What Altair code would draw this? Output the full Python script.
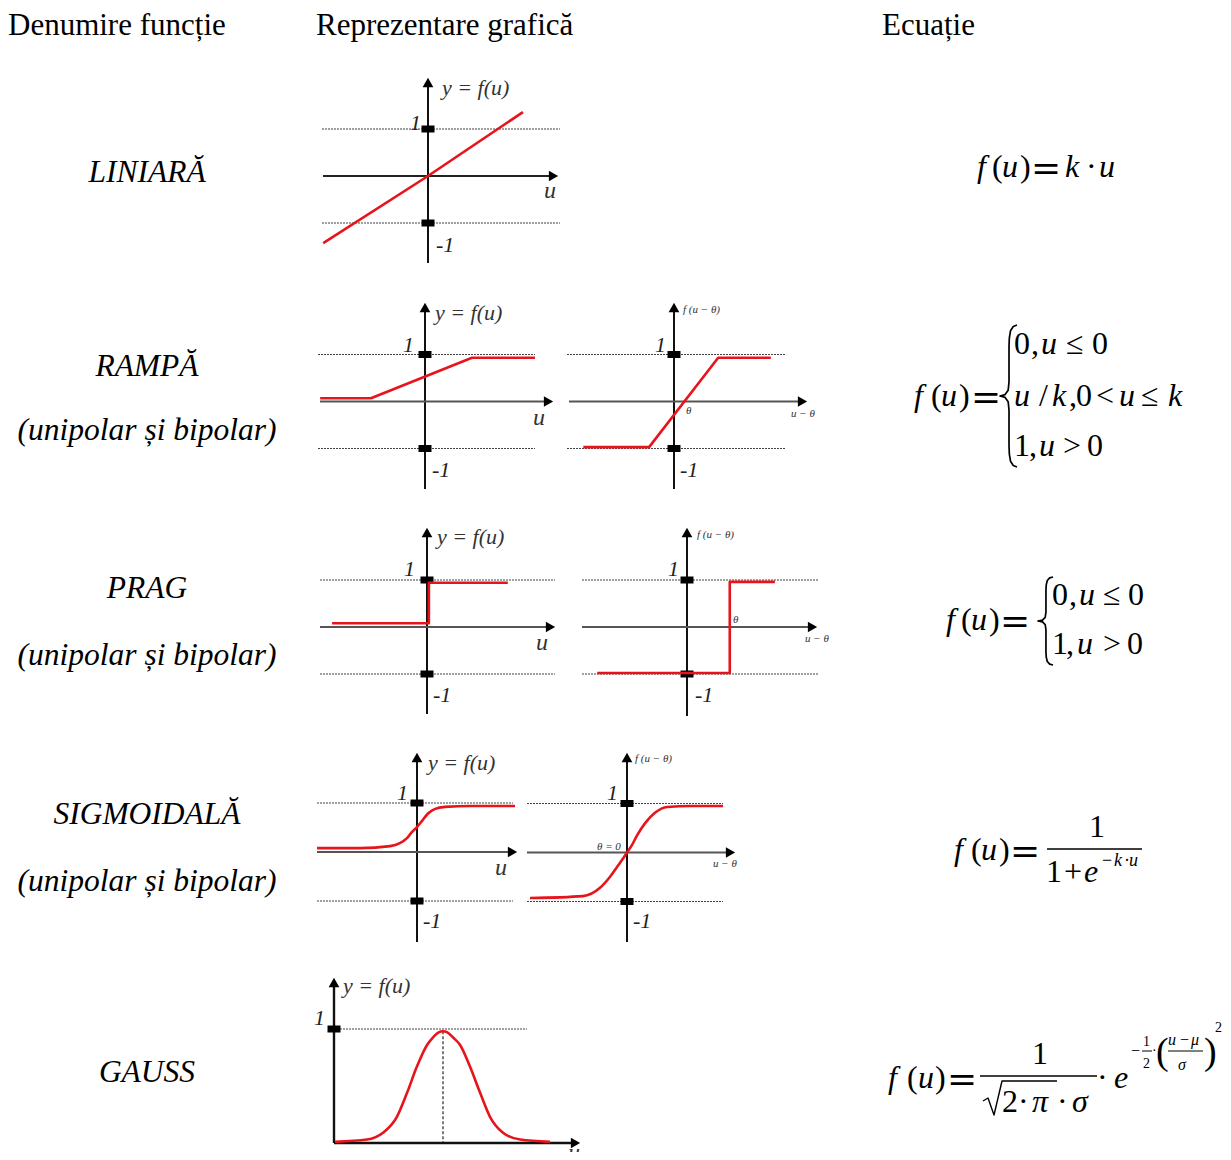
import altair as alt
import pandas as pd

# ------------------------------------------------------------------ texts
headers = ["Denumire funcție", "Reprezentare grafică", "Ecuație"]
names = ["LINIARĂ", "RAMPĂ", "PRAG", "SIGMOIDALĂ", "GAUSS"]
subtitle = "(unipolar și bipolar)"

# ------------------------------------------------------------------ data
# u = argument in panel units, f = function value
lin_u = [-2.23, 0.0, 2.02]
lin_f = [-1.43, 0.0, 1.36]
ramp_uni_u = [-2.23, -1.15, 1.00, 2.34]
ramp_uni_f = [0.07, 0.07, 0.93, 0.93]
ramp_bi_u = [-1.93, -0.53, 0.94, 2.06]
ramp_bi_f = [-0.97, -0.97, 0.93, 0.93]
prag_uni_u = [-2.02, 0.04, 0.04, 1.72]
prag_uni_f = [0.08, 0.08, 0.94, 0.94]
prag_bi_u = [-1.91, 0.91, 0.91, 1.87]
prag_bi_f = [-0.98, -0.98, 0.96, 0.96]
sig_uni_u = [-2.04, -1.16, -0.55, -0.35, -0.20, -0.10, 0.0, 0.10, 0.22, 0.37, 0.57, 1.08, 2.0]
sig_uni_f = [0.08, 0.08, 0.12, 0.18, 0.29, 0.41, 0.51, 0.63, 0.78, 0.88, 0.92, 0.94, 0.94]
sig_bi_u = [-1.98, -0.90, -0.55, -0.35, -0.20, -0.10, 0.0, 0.10, 0.20, 0.37, 0.57, 0.82, 1.29, 1.96]
sig_bi_f = [-0.93, -0.89, -0.72, -0.50, -0.29, -0.15, 0.0, 0.15, 0.34, 0.60, 0.81, 0.93, 0.95, 0.95]
gauss_u = [-3.72, -2.62, -2.07, -1.59, -1.24, -0.90, -0.55, -0.35, -0.15, 0.0,
           0.15, 0.35, 0.59, 0.93, 1.28, 1.62, 2.07, 2.66, 3.69]
gauss_f = [0.01, 0.03, 0.09, 0.23, 0.44, 0.67, 0.86, 0.925, 0.97, 0.98,
           0.97, 0.925, 0.86, 0.67, 0.44, 0.23, 0.09, 0.03, 0.01]

# brace glyph outline (normalised)
brace_x = [1.0, 0.78, 0.62, 0.55, 0.53, 0.53, 0.48, 0.30, 0.0, 0.30, 0.48, 0.53, 0.53, 0.55, 0.62, 0.78, 1.0]
brace_y = [0.0, 0.01, 0.04, 0.09, 0.15, 0.40, 0.46, 0.49, 0.5, 0.51, 0.54, 0.60, 0.85, 0.91, 0.96, 0.99, 1.0]

# ------------------------------------------------------------------ layout (page pixels)
P = {
    "lin": dict(ax=428, ay=176, cx=428, sx=47, sy=47, vt=78, vb=263, hl=323, hr=558, dl=322, dr=560, neg=True, hc="#222"),
    "r1": dict(ax=425, ay=401.5, cx=425, sx=47, sy=47, vt=303, vb=489, hl=320, hr=553, dl=318, dr=535, neg=True, hc="#555"),
    "r2": dict(ax=674, ay=401.5, cx=674, sx=47, sy=47, vt=303, vb=489, hl=569, hr=807, dl=567, dr=786, neg=True, hc="#555"),
    "p1": dict(ax=427, ay=627, cx=427, sx=47, sy=47, vt=528, vb=714, hl=320, hr=555, dl=320, dr=555, neg=True, hc="#555"),
    "p2": dict(ax=687, ay=627, cx=687, sx=47, sy=47, vt=528, vb=716, hl=582, hr=817, dl=582, dr=818, neg=True, hc="#555"),
    "s1": dict(ax=417, ay=852, cx=417, sx=49, sy=49, vt=753, vb=942, hl=317, hr=517, dl=317, dr=513, neg=True, hc="#555"),
    "s2": dict(ax=627, ay=852.5, cx=627, sx=49, sy=49, vt=753, vb=942, hl=527, hr=735, dl=527, dr=723, neg=True, hc="#555"),
    "g": dict(ax=334, ay=1143, cx=443, sx=29, sy=114, vt=978, vb=1143, hl=334, hr=580, dl=334, dr=527, neg=False, hc="#111"),
}
curves_lin = [("lin", lin_u, lin_f), ("r1", ramp_uni_u, ramp_uni_f), ("r2", ramp_bi_u, ramp_bi_f),
              ("p1", prag_uni_u, prag_uni_f), ("p2", prag_bi_u, prag_bi_f)]
curves_smooth = [("s1", sig_uni_u, sig_uni_f), ("s2", sig_bi_u, sig_bi_f), ("g", gauss_u, gauss_f)]

RED = "#e8141c"
XS = alt.Scale(domain=[8, 1223], nice=False, zero=False)
YS = alt.Scale(domain=[8, 1152], nice=False, zero=False, reverse=True)


def enc_xy():
    return dict(x=alt.X("x:Q", scale=XS, axis=None), y=alt.Y("y:Q", scale=YS, axis=None))


# ---- line geometry
solid, dotted, dashed, red_lin, red_smooth = [], [], [], [], []
gid = [0]


def seg(lst, pts, color, width):
    gid[0] += 1
    for i, (x, y) in enumerate(pts):
        lst.append(dict(x=x, y=y, o=i, g=gid[0], c=color, w=width))


arrows_up, arrows_right, ticks = [], [], []
for k, p in P.items():
    wv = 2.4 if k == "g" else 2.0
    seg(solid, [(p["ax"], p["vb"]), (p["ax"], p["vt"] + 5)], "#111", wv)
    seg(solid, [(p["hl"], p["ay"]), (p["hr"] - 5, p["ay"])], p["hc"], wv if k == "g" else 1.8)
    arrows_up.append(dict(x=p["ax"], y=p["vt"] + 4.5))
    arrows_right.append(dict(x=p["hr"] - 4.5, y=p["ay"]))
    levels = [1, -1] if p["neg"] else [1]
    for lv in levels:
        yy = p["ay"] - lv * p["sy"]
        seg(dotted, [(p["dl"], yy), (p["dr"], yy)], "#444", 1.1)
        ticks.append(dict(x=p["ax"] - 6.5, x2=p["ax"] + 6.5, y=yy - 3.5, y2=yy + 3.5))

for k, us, fs in curves_lin:
    p = P[k]
    seg(red_lin, [(p["cx"] + u * p["sx"], p["ay"] - f * p["sy"]) for u, f in zip(us, fs)], RED, 2.6)
for k, us, fs in curves_smooth:
    p = P[k]
    seg(red_smooth, [(p["cx"] + u * p["sx"], p["ay"] - f * p["sy"]) for u, f in zip(us, fs)], RED, 2.6)

pg = P["g"]
seg(dashed, [(pg["cx"], pg["ay"] - max(gauss_f) * pg["sy"]), (pg["cx"], pg["ay"])], "#111", 1.1)

# braces, fraction bars, radical
for (x0, x1, y0, y1) in [(1000, 1017, 325, 467), (1038, 1053, 577, 665)]:
    seg(solid, [(x0 + bx * (x1 - x0), y0 + by * (y1 - y0)) for bx, by in zip(brace_x, brace_y)], "#000", 1.7)
seg(solid, [(1047, 849), (1142, 849)], "#000", 1.4)
seg(solid, [(980, 1076), (1097, 1076)], "#000", 1.4)
seg(solid, [(983, 1101), (988, 1098), (994, 1115), (1002, 1081), (1057, 1081)], "#000", 1.4)
seg(solid, [(1142, 1051), (1152, 1051)], "#000", 1.0)
seg(solid, [(1168, 1051), (1203, 1051)], "#000", 1.0)

# ---- texts  (text, x, baseline y, size, color)
T = {"n": [], "i": [], "ic": [], "ir": [], "sym": []}


def t(style, txt, x, y, s, c="#000"):
    if style == "sym":
        y = y + 3
    T[style].append(dict(x=x, y=y, t=txt, s=s, c=c))


t("n", headers[0], 8, 35, 31)
t("n", headers[1], 316, 35, 31)
t("n", headers[2], 882, 35, 31)
for nm, yb in zip(names, [182, 376, 598, 824, 1082]):
    t("ic", nm, 147, yb, 31.5)
for yb in [440, 665, 891]:
    t("ic", subtitle, 147, yb, 31.5)

LBL = "#222"
# panel labels
for (xl, yb) in [(442, 95), (435, 320), (437, 544), (428, 770), (343, 993)]:
    t("i", "y = f(u)", xl, yb, 22, "#333")
for (xr, yb) in [(421, 130), (414, 352), (666, 352), (415, 576), (679, 576), (408, 800), (618, 800), (325, 1025)]:
    t("ir", "1", xr, yb, 22, LBL)
for (xl, yb) in [(436, 252), (432, 477), (680, 477), (433, 702), (695, 702), (423, 928), (633, 928)]:
    t("i", "-1", xl, yb, 22, LBL)
for (xl, yb) in [(544, 198), (533, 425), (536, 650), (495, 875), (568, 1160)]:
    t("i", "u", xl, yb, 24, "#333")
for (xl, yb) in [(683, 313), (697, 538), (635, 762)]:
    t("i", "f (u − θ)", xl, yb, 11, "#333")
for (xl, yb) in [(791, 417), (805, 642), (713, 867)]:
    t("i", "u − θ", xl, yb, 11, "#333")
t("i", "θ", 686, 414, 11, "#333")
t("i", "θ", 733, 623, 11, "#333")
t("i", "θ = 0", 597, 850, 11, "#333")

S = 32
EQ = 36
# equation 1
for txt, x, st in [("f", 977, "i"), ("(", 992, "n"), ("u", 1002, "i"), (")", 1020, "n"), ("=", 1031, "sym"),
                   ("k", 1065, "i"), ("·", 1086, "n"), ("u", 1099, "i")]:
    t(st, txt, x, 177, EQ if st == "sym" else S)
# equation 2
for txt, x, st in [("f", 914, "i"), ("(", 931, "n"), ("u", 941, "i"), (")", 959, "n"), ("=", 971, "sym")]:
    t(st, txt, x, 406, EQ if st == "sym" else S)
for txt, x, st in [("0", 1014, "n"), (",", 1031, "n"), ("u", 1041, "i"), ("≤", 1066, "n"), ("0", 1092, "n")]:
    t(st, txt, x, 354, S)
for txt, x, st in [("u", 1014, "i"), ("/", 1039, "n"), ("k", 1052, "i"), (",", 1069, "n"), ("0", 1076, "n"),
                   ("<", 1096, "n"), ("u", 1119, "i"), ("≤", 1141, "n"), ("k", 1168, "i")]:
    t(st, txt, x, 406, S)
for txt, x, st in [("1", 1014, "n"), (",", 1029, "n"), ("u", 1039, "i"), (">", 1063, "n"), ("0", 1087, "n")]:
    t(st, txt, x, 456, S)
# equation 3
for txt, x, st in [("f", 946, "i"), ("(", 961, "n"), ("u", 971, "i"), (")", 989, "n"), ("=", 1000, "sym")]:
    t(st, txt, x, 630, EQ if st == "sym" else S)
for txt, x, st in [("0", 1052, "n"), (",", 1069, "n"), ("u", 1079, "i"), ("≤", 1103, "n"), ("0", 1128, "n")]:
    t(st, txt, x, 605, S)
for txt, x, st in [("1", 1052, "n"), (",", 1066, "n"), ("u", 1077, "i"), (">", 1103, "n"), ("0", 1127, "n")]:
    t(st, txt, x, 654, S)
# equation 4
for txt, x, st in [("f", 954, "i"), ("(", 971, "n"), ("u", 981, "i"), (")", 999, "n"), ("=", 1010, "sym")]:
    t(st, txt, x, 860, EQ if st == "sym" else S)
t("n", "1", 1089, 837, S)
for txt, x, st in [("1", 1046, "n"), ("+", 1064, "n"), ("e", 1084, "i")]:
    t(st, txt, x, 882, S)
for txt, x, st in [("−", 1102, "n"), ("k", 1114, "i"), ("·", 1124, "n"), ("u", 1129, "i")]:
    t(st, txt, x, 866, 18)
# equation 5
for txt, x, st in [("f", 888, "i"), ("(", 907, "n"), ("u", 918, "i"), (")", 935, "n"), ("=", 947, "sym"),
                   ("·", 1097, "n"), ("e", 1114, "i")]:
    t(st, txt, x, 1088, EQ if st == "sym" else S)
t("n", "1", 1032, 1064, S)
for txt, x, st in [("2", 1002, "n"), ("·", 1018, "n"), ("π", 1032, "i"), ("·", 1057, "n"), ("σ", 1072, "i")]:
    t(st, txt, x, 1112, S)
t("n", "−", 1131, 1056, 16)
t("n", "1", 1143, 1046, 14)
t("n", "2", 1143, 1068, 14)
t("n", "·", 1152, 1055, 14)
t("n", "(", 1156, 1064, 38)
t("n", ")", 1204, 1064, 38)
for txt, x, st in [("u", 1168, "i"), ("−", 1180, "n"), ("μ", 1191, "i")]:
    t(st, txt, x, 1045, 16)
t("i", "σ", 1178, 1070, 16)
t("n", "2", 1215, 1032, 14)

# ------------------------------------------------------------------ chart
layers = []


def line_layer(rows, dash=None, interp="linear"):
    kw = dict(interpolate=interp, strokeCap="butt", strokeJoin="round")
    if dash:
        kw["strokeDash"] = dash
    return alt.Chart(pd.DataFrame(rows)).mark_line(**kw).encode(
        **enc_xy(), detail="g:N", order="o:Q",
        color=alt.Color("c:N", scale=None), strokeWidth=alt.StrokeWidth("w:Q", scale=None))


layers.append(line_layer(dotted, dash=[2, 1]))
layers.append(line_layer(dashed, dash=[3, 2]))
layers.append(line_layer(solid))
layers.append(alt.Chart(pd.DataFrame(ticks)).mark_rect(color="#000").encode(
    x=alt.X("x:Q", scale=XS, axis=None), x2="x2:Q", y=alt.Y("y:Q", scale=YS, axis=None), y2="y2:Q"))
layers.append(alt.Chart(pd.DataFrame(arrows_up)).mark_point(shape="triangle-up", filled=True, opacity=1,
                                                               size=115, color="#000").encode(**enc_xy()))
layers.append(alt.Chart(pd.DataFrame(arrows_right)).mark_point(shape="triangle-right", filled=True, opacity=1,
                                                                  size=115, color="#000").encode(**enc_xy()))
layers.append(line_layer(red_lin))
layers.append(line_layer(red_smooth, interp="monotone"))

styles = {
    "n": dict(font="Liberation Serif", fontStyle="normal", align="left"),
    "i": dict(font="Liberation Serif", fontStyle="italic", align="left"),
    "ic": dict(font="Liberation Serif", fontStyle="italic", align="center"),
    "ir": dict(font="Liberation Serif", fontStyle="italic", align="right"),
    "sym": dict(font="DejaVu Serif", fontStyle="normal", align="left"),
}
for key, rows in T.items():
    if not rows:
        continue
    layers.append(alt.Chart(pd.DataFrame(rows)).mark_text(baseline="alphabetic", **styles[key]).encode(
        **enc_xy(), text="t:N", size=alt.Size("s:Q", scale=None), color=alt.Color("c:N", scale=None)))

chart = alt.layer(*layers).properties(
    width=1215, height=1144, autosize=alt.AutoSizeParams(type="none"), padding=0, background="white"
).configure_view(stroke=None)

chart.save("out.html", embed_options={"renderer": "svg", "actions": False})
